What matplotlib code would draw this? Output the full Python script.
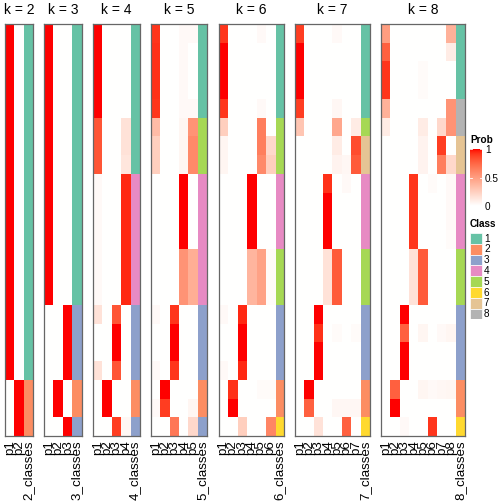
import numpy as np
import matplotlib.pyplot as plt
from matplotlib.colors import ListedColormap
from matplotlib.patches import Rectangle

plt.rcParams['font.family'] = ['Liberation Sans', 'DejaVu Sans']

# membership probabilities, one row per sample, one column per class
prob_k2 = [
    [1, 0], [1, 0], [1, 0], [1, 0], [1, 0], [1, 0], [1, 0], [1, 0],
    [1, 0], [1, 0], [1, 0], [1, 0], [1, 0], [1, 0], [1, 0], [1, 0],
    [1, 0], [1, 0], [1, 0], [0, 1], [0, 1], [0, 1],
]
class_k2 = [1, 1, 1, 1, 1, 1, 1, 1, 1, 1, 1, 1, 1, 1, 1, 1, 1, 1, 1, 2, 2, 2]

prob_k3 = [
    [1, 0, 0], [1, 0, 0], [1, 0, 0], [1, 0, 0], [1, 0, 0], [1, 0, 0],
    [1, 0, 0], [1, 0, 0], [1, 0, 0], [1, 0, 0], [1, 0, 0], [1, 0, 0],
    [1, 0, 0], [1, 0, 0], [1, 0, 0], [0, 0, 1], [0, 0, 1], [0, 0, 1],
    [0, 0, 1], [0, 1, 0], [0, 1, 0], [0, 0, 1],
]
class_k3 = [1, 1, 1, 1, 1, 1, 1, 1, 1, 1, 1, 1, 1, 1, 1, 3, 3, 3, 3, 2, 2, 3]

prob_k4 = [
    [1, 0, 0, 0],
    [1, 0, 0, 0],
    [1, 0, 0, 0],
    [1, 0, 0, 0],
    [1, 0, 0, 0],
    [0.82, 0, 0, 0.15],
    [0.82, 0, 0, 0.15],
    [0.82, 0, 0, 0.13],
    [0.03, 0, 0, 0.95],
    [0.03, 0, 0, 0.95],
    [0.03, 0, 0, 0.95],
    [0.03, 0, 0, 0.95],
    [0.03, 0, 0, 0.95],
    [0.03, 0, 0, 0.95],
    [0.03, 0, 0, 0.95],
    [0.15, 0, 0.82, 0],
    [0, 0, 1, 0],
    [0, 0, 1, 0],
    [0.15, 0, 0.82, 0],
    [0, 1, 0, 0],
    [0, 1, 0, 0],
    [0, 0, 0.9, 0.04],
]
class_k4 = [1, 1, 1, 1, 1, 1, 1, 1, 4, 4, 4, 4, 4, 4, 4, 3, 3, 3, 3, 2, 2, 3]

prob_k5 = [
    [0.92, 0, 0, 0.03, 0.03],
    [0.93, 0, 0, 0.03, 0],
    [0.93, 0, 0, 0.03, 0],
    [0.93, 0, 0, 0.03, 0],
    [0.92, 0, 0, 0.03, 0.03],
    [0.35, 0, 0, 0.05, 0.55],
    [0.25, 0, 0, 0.05, 0.6],
    [0.25, 0, 0, 0.05, 0.6],
    [0, 0, 0, 1, 0],
    [0, 0, 0, 1, 0],
    [0, 0, 0, 1, 0],
    [0, 0, 0, 1, 0],
    [0, 0, 0, 0.55, 0.42],
    [0, 0, 0, 0.55, 0.42],
    [0, 0, 0, 0.55, 0.42],
    [0.03, 0, 0.92, 0, 0],
    [0, 0, 1, 0, 0],
    [0, 0, 1, 0, 0],
    [0.03, 0, 0.92, 0, 0],
    [0, 1, 0, 0, 0],
    [0.03, 0.9, 0, 0, 0.05],
    [0, 0, 0.68, 0, 0.2],
]
class_k5 = [1, 1, 1, 1, 1, 5, 5, 5, 4, 4, 4, 4, 4, 4, 4, 3, 3, 3, 3, 2, 2, 3]

prob_k6 = [
    [0.92, 0, 0, 0, 0.03, 0],
    [1, 0, 0, 0, 0, 0],
    [1, 0, 0, 0, 0, 0],
    [1, 0, 0, 0, 0, 0],
    [0.92, 0, 0, 0, 0.03, 0],
    [0.25, 0, 0, 0, 0.65, 0],
    [0.05, 0, 0, 0, 0.65, 0.2],
    [0.05, 0, 0, 0, 0.6, 0.25],
    [0, 0, 0, 1, 0, 0],
    [0, 0, 0, 1, 0, 0],
    [0, 0, 0, 1, 0, 0],
    [0, 0, 0, 1, 0, 0],
    [0, 0, 0, 0.38, 0.48, 0.02],
    [0, 0, 0, 0.38, 0.48, 0.02],
    [0, 0, 0, 0.38, 0.48, 0.02],
    [0.03, 0, 0.95, 0, 0, 0],
    [0, 0, 1, 0, 0, 0],
    [0, 0, 1, 0, 0, 0],
    [0.03, 0, 0.95, 0, 0, 0],
    [0, 0.93, 0, 0, 0.02, 0.02],
    [0, 1, 0, 0, 0, 0],
    [0, 0, 0.25, 0, 0, 0.62],
]
class_k6 = [1, 1, 1, 1, 1, 5, 5, 5, 4, 4, 4, 4, 5, 5, 5, 3, 3, 3, 3, 2, 2, 6]

prob_k7 = [
    [0.9, 0, 0, 0, 0.03, 0, 0],
    [1, 0, 0, 0, 0, 0, 0],
    [1, 0, 0, 0, 0, 0, 0],
    [1, 0, 0, 0, 0, 0, 0],
    [0.9, 0, 0, 0, 0.04, 0, 0],
    [0.3, 0, 0, 0, 0.45, 0, 0.1],
    [0, 0, 0, 0, 0.1, 0, 0.85],
    [0, 0, 0, 0, 0.06, 0.04, 0.8],
    [0, 0, 0, 0.93, 0, 0.03, 0],
    [0, 0, 0, 1, 0, 0, 0],
    [0, 0, 0, 1, 0, 0, 0],
    [0, 0, 0, 1, 0, 0, 0],
    [0, 0, 0, 0.15, 0.8, 0, 0],
    [0, 0, 0, 0.15, 0.8, 0, 0],
    [0, 0, 0, 0.15, 0.8, 0, 0],
    [0, 0, 1, 0, 0, 0, 0],
    [0, 0, 0.93, 0, 0.02, 0, 0.02],
    [0, 0, 1, 0, 0, 0, 0],
    [0, 0, 1, 0, 0, 0, 0],
    [0, 1, 0, 0, 0, 0, 0],
    [0, 0.78, 0, 0, 0.04, 0.04, 0.04],
    [0, 0, 0.15, 0, 0, 0.78, 0],
]
class_k7 = [1, 1, 1, 1, 1, 5, 7, 7, 4, 4, 4, 4, 5, 5, 5, 3, 3, 3, 3, 2, 2, 6]

prob_k8 = [
    [0.5, 0, 0, 0, 0, 0, 0, 0.4],
    [0.78, 0, 0, 0, 0, 0, 0, 0.1],
    [0.92, 0, 0, 0, 0.02, 0, 0, 0],
    [0.92, 0, 0, 0, 0.02, 0, 0, 0],
    [0.4, 0, 0, 0, 0, 0, 0, 0.55],
    [0.1, 0, 0, 0, 0.1, 0, 0.2, 0.55],
    [0, 0, 0, 0, 0.06, 0, 0.9, 0],
    [0, 0, 0, 0, 0.06, 0, 0.65, 0.2],
    [0, 0, 0, 0.92, 0, 0.02, 0, 0.03],
    [0, 0, 0, 0.92, 0, 0, 0, 0.03],
    [0, 0, 0, 0.92, 0, 0, 0, 0.03],
    [0, 0, 0, 0.92, 0, 0, 0, 0.02],
    [0, 0, 0, 0.15, 0.8, 0, 0, 0],
    [0, 0, 0, 0.15, 0.8, 0, 0, 0],
    [0, 0, 0, 0.15, 0.8, 0, 0, 0],
    [0, 0, 1, 0, 0, 0, 0, 0],
    [0, 0, 0.78, 0, 0.05, 0, 0.03, 0.05],
    [0, 0, 1, 0, 0, 0, 0, 0],
    [0, 0, 1, 0, 0, 0, 0, 0],
    [0, 0.78, 0, 0, 0.05, 0.03, 0.04, 0.05],
    [0, 1, 0, 0, 0, 0, 0, 0],
    [0, 0, 0.03, 0, 0, 0.92, 0, 0],
]
class_k8 = [1, 1, 1, 1, 8, 8, 7, 7, 4, 4, 4, 4, 5, 5, 5, 3, 3, 3, 3, 2, 2, 6]

ks = [2, 3, 4, 5, 6, 7, 8]
probs = [prob_k2, prob_k3, prob_k4, prob_k5, prob_k6, prob_k7, prob_k8]
classes = [class_k2, class_k3, class_k4, class_k5, class_k6, class_k7, class_k8]

class_colors = ['#66C2A5', '#FC8D62', '#8DA0CB', '#E78AC3',
                '#A6D854', '#FFD92F', '#E5C494', '#B3B3B3']
class_labels = ['1', '2', '3', '4', '5', '6', '7', '8']
prob_ticks = [0, 0.5, 1]
prob_tick_labels = ['0', '0.5', '1']


def lab_ramp(n=256):
    # white -> red interpolated in CIE Lab, like colorRamp2
    t = np.linspace(0, 1, n)
    L = 100 + (53.24 - 100) * t
    a = 80.09 * t
    b = 67.20 * t
    fy = (L + 16) / 116
    fx = fy + a / 500
    fz = fy - b / 200

    def finv(f):
        return np.where(f ** 3 > 0.008856, f ** 3, (f - 16 / 116) / 7.787)
    X = 0.95047 * finv(fx)
    Y = finv(fy)
    Z = 1.08883 * finv(fz)
    r = 3.2406 * X - 1.5372 * Y - 0.4986 * Z
    g = -0.9689 * X + 1.8758 * Y + 0.0415 * Z
    bl = 0.0557 * X - 0.2040 * Y + 1.0570 * Z
    rgb = np.stack([r, g, bl], axis=1)
    rgb = np.where(rgb <= 0.0031308, 12.92 * rgb,
                   1.055 * np.clip(rgb, 1e-9, None) ** (1 / 2.4) - 0.055)
    return ListedColormap(np.clip(rgb, 0, 1))


cmap = lab_ramp()

W = H = 504
fig = plt.figure(figsize=(W / 100, H / 100), dpi=100)


def px_axes(x, y, w, h):
    return fig.add_axes([x / W, 1 - (y + h) / H, w / W, h / H])


col_w = 9.33
gap = 11.4
top, bottom = 24, 436
x = 5
for k, prob, cls in zip(ks, probs, classes):
    w = (k + 1) * col_w
    ax = px_axes(x, top, w, bottom - top)
    p_rgb = cmap(np.array(prob, dtype=float))
    c_rgb = np.array([plt.matplotlib.colors.to_rgba(class_colors[c - 1])
                      for c in cls])[:, None, :]
    img = np.concatenate([p_rgb, c_rgb], axis=1)
    ax.imshow(img, aspect='auto', interpolation='nearest')
    labels = ['p%d' % (i + 1) for i in range(k)] + ['%d_classes' % k]
    ax.set_xticks(range(k + 1))
    ax.set_xticklabels(labels, rotation=90, fontsize=9.6)
    ax.tick_params(axis='x', length=0, pad=3)
    ax.set_yticks([])
    for s in ax.spines.values():
        s.set_color('#666666')
        s.set_linewidth(0.9)
    ax.set_title('k = %d' % k, fontsize=10, pad=7)
    x += w + gap

# Prob legend
fig.text(470 / W, 1 - 140 / H, 'Prob', fontsize=7.2, fontweight='bold',
         ha='left', va='center')
cax = px_axes(470, 149, 12, 57)
grad = np.linspace(1, 0, 100)[:, None]
cax.imshow(grad, aspect='auto', cmap=cmap, vmin=0, vmax=1,
           extent=[0, 1, 0, 1])
for v in prob_ticks:
    cax.plot([0, 0.2], [v, v], color='white', lw=0.6)
    cax.plot([0.8, 1], [v, v], color='white', lw=0.6)
cax.set_xlim(0, 1)
cax.set_ylim(0, 1)
cax.set_yticks(prob_ticks)
cax.set_yticklabels(prob_tick_labels, fontsize=7.2)
cax.yaxis.tick_right()
cax.tick_params(axis='y', length=0, pad=2)
cax.set_xticks([])
for s in cax.spines.values():
    s.set_visible(False)

# Class legend
fig.text(470 / W, 1 - 224 / H, 'Class', fontsize=7.2, fontweight='bold',
         ha='left', va='center')
lax = px_axes(470, 233, 30, 8 * 10.8)
lax.set_xlim(0, 30)
lax.set_ylim(8 * 10.8, 0)
lax.axis('off')
for i, (c, lab) in enumerate(zip(class_colors, class_labels)):
    lax.add_patch(Rectangle((0, i * 10.8), 11.5, 10.8, facecolor=c,
                            edgecolor='white', lw=0.5))
    lax.text(14, i * 10.8 + 5.6, lab, fontsize=7.2, va='center', ha='left')

fig.savefig('out.png', dpi=100)
